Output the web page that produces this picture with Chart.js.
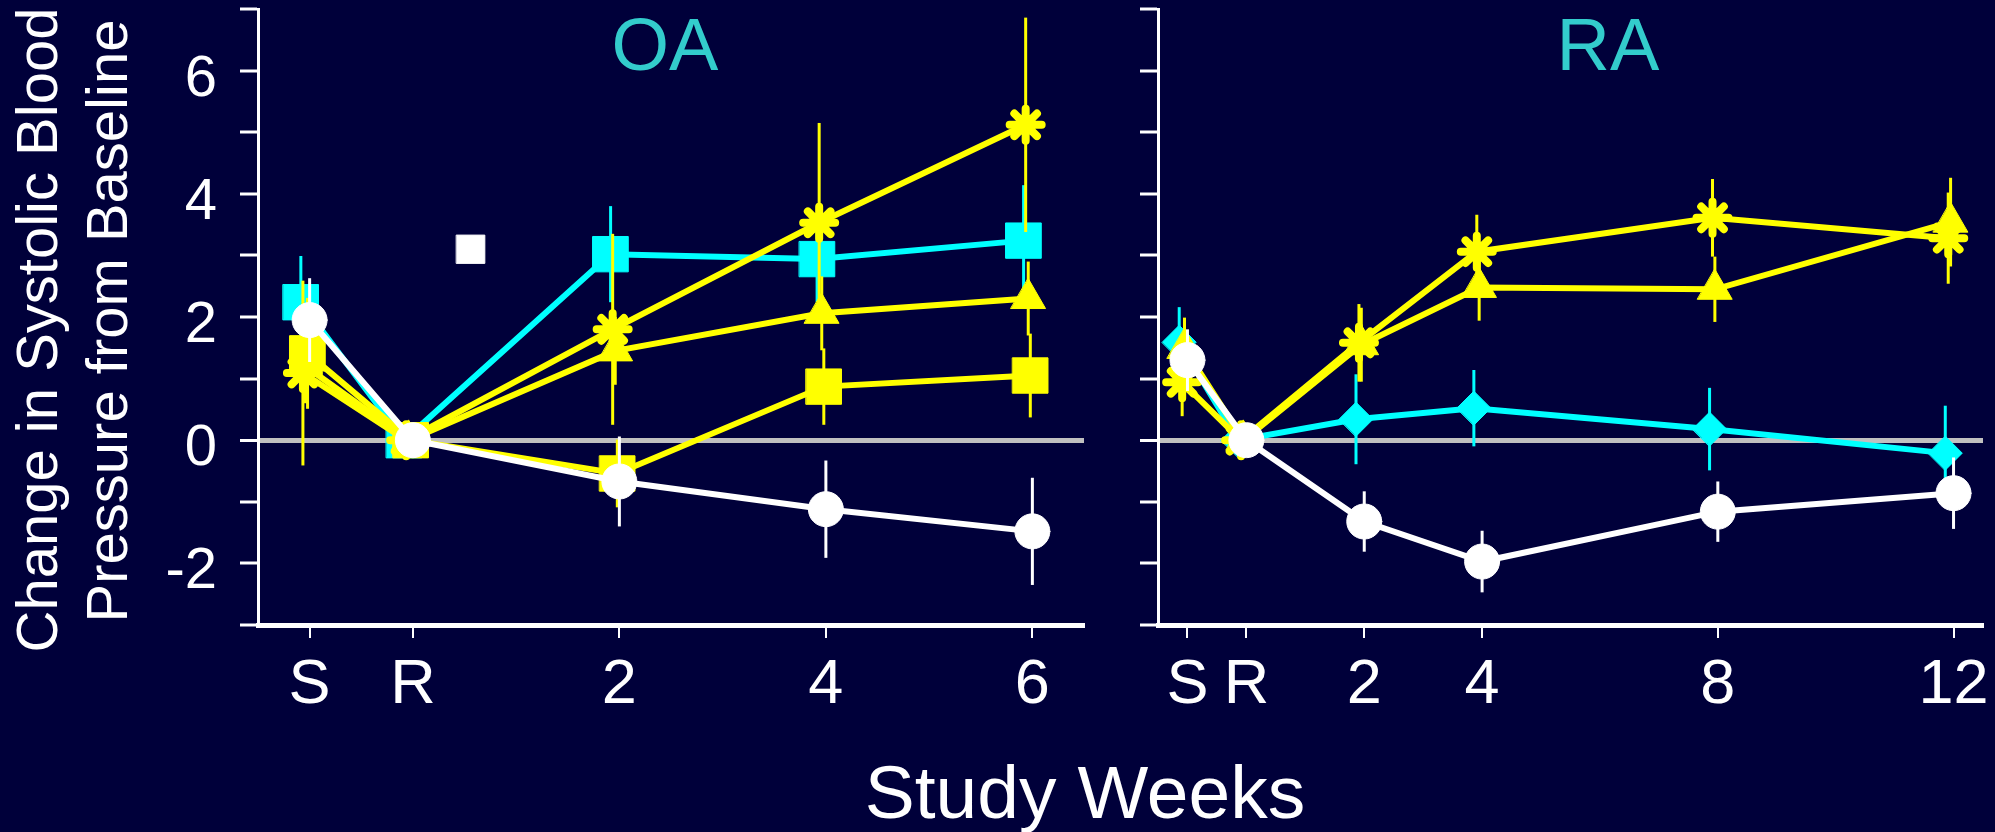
<!DOCTYPE html>
<html><head><meta charset="utf-8">
<script src="https://cdn.jsdelivr.net/npm/chart.js@4.4.0/dist/chart.umd.min.js"></script>
<style>
html,body{margin:0;padding:0;background:#00003A;width:1995px;height:832px;overflow:hidden;}
#cL{position:absolute;left:0;top:0;}
#cR{position:absolute;left:1100px;top:0;}
</style></head><body>
<canvas id="cL" width="1995" height="832"></canvas>
<canvas id="cR" width="895" height="832"></canvas>
<script>
// ---------------- data ----------------
const yTickLabelValues = [-2, 0, 2, 4, 6];
const yTitleLines = ['Change in Systolic Blood', 'Pressure from Baseline'];
const xTitle = 'Study Weeks';
const panelTitles = ['OA', 'RA'];

// OA panel
const OA_weeks = [-1, 0, 2, 4, 6];
const OA_xTickValues = [-1, 0, 2, 4, 6];
const OA_xTickLabels = ['S', 'R', '2', '4', '6'];
const OA_whiteCircle = [1.95, 0, -0.67, -1.12, -1.48];
const OA_whiteCircleErr = [0.68, 0, 0.73, 0.79, 0.87];
const OA_cyanSquare = [2.24, 0, 3.02, 2.94, 3.24];
const OA_cyanSquareErr = [0.75, 0, 0.78, 0.70, 0.90];
const OA_yellowStar = [1.09, 0, 1.80, 3.53, 5.12];
const OA_yellowStarErr = [1.50, 0, 1.55, 1.62, 1.74];
const OA_yellowTriangle = [1.20, 0, 1.45, 2.06, 2.30];
const OA_yellowTriangleErr = [0.60, 0, 0.55, 0.60, 0.60];
const OA_yellowSquare = [1.41, 0, -0.54, 0.87, 1.05];
const OA_yellowSquareErr = [0.90, 0, 0.55, 0.62, 0.68];
const OA_whiteSquareWeek = [0.56];
const OA_whiteSquareValue = [3.10];

// RA panel
const RA_weeks = [-1, 0, 2, 4, 8, 12];
const RA_xTickValues = [-1, 0, 2, 4, 8, 12];
const RA_xTickLabels = ['S', 'R', '2', '4', '8', '12'];
const RA_whiteCircle = [1.30, 0, -1.32, -1.97, -1.16, -0.86];
const RA_whiteCircleErr = [0.50, 0, 0.49, 0.50, 0.49, 0.58];
const RA_cyanDiamond = [1.59, 0, 0.34, 0.52, 0.18, -0.21];
const RA_cyanDiamondErr = [0.57, 0, 0.73, 0.62, 0.67, 0.77];
const RA_yellowStar = [0.94, 0, 1.58, 3.06, 3.61, 3.28];
const RA_yellowStarErr = [0.55, 0, 0.63, 0.60, 0.63, 0.74];
const RA_yellowTriangle = [1.49, 0, 1.55, 2.48, 2.45, 3.54];
const RA_yellowTriangleErr = [0.50, 0, 0.60, 0.54, 0.53, 0.72];

// ---------------- styles ----------------
const FONT = '"Liberation Sans", Arial, sans-serif';
const WHITE = '#FFFFFF', CYAN = '#00FFFF', YELLOW = '#FFFF00', TEAL = '#33CCCC', ZERO = '#C0C0C0';

function marker(color, style, radius, bw) {
  return {
    borderColor: color, backgroundColor: color,
    pointBackgroundColor: color, pointBorderColor: color,
    pointStyle: style, pointRadius: radius, pointBorderWidth: bw,
    borderWidth: 6, tension: 0, fill: false, showLine: true
  };
}
function series(label, weeks, values, errs, shift, style) {
  return Object.assign({
    label,
    data: weeks.map((w, i) => ({ x: w + shift, y: values[i] })),
    errors: errs
  }, style);
}

const errorBarPlugin = {
  id: 'errorBars',
  beforeDatasetDraw(chart) { chart.ctx.lineCap = 'round'; },
  afterDatasetDraw(chart, args) {
    const ctx = chart.ctx;
    ctx.lineCap = 'butt';
    const ds = chart.data.datasets[args.index];
    if (!ds.errors) return;
    const ys = chart.scales.y;
    ctx.save();
    ctx.strokeStyle = ds.borderColor;
    ctx.lineWidth = 3;
    args.meta.data.forEach((pt, i) => {
      const e = ds.errors[i];
      if (!e) return;
      const v = ds.data[i].y;
      ctx.beginPath();
      ctx.moveTo(pt.x, ys.getPixelForValue(v + e));
      ctx.lineTo(pt.x, ys.getPixelForValue(v - e));
      ctx.stroke();
    });
    ctx.restore();
  }
};

function yScale(showLabels, width) {
  return {
    type: 'linear', min: -3, max: 7,
    ticks: {
      stepSize: 1, autoSkip: false, color: WHITE, padding: 23, labelOffset: 9,
      font: { family: FONT, size: 58 },
      callback: v => (showLabels && yTickLabelValues.includes(v)) ? String(v) : ''
    },
    grid: {
      drawOnChartArea: true, drawTicks: true, tickLength: 18, tickColor: WHITE, tickWidth: 3,
      color: c => (c.tick && c.tick.value === 0) ? ZERO : 'rgba(0,0,0,0)',
      lineWidth: c => (c.tick && c.tick.value === 0) ? 5 : 0
    },
    border: { display: true, color: WHITE, width: 3 },
    afterFit: s => { s.width = width; s.paddingTop = 0; s.paddingBottom = 0; }
  };
}
function xScale(min, max, tickVals, tickLabels) {
  return {
    type: 'linear', min, max,
    afterBuildTicks: s => { s.ticks = tickVals.map(v => ({ value: v })); },
    ticks: {
      autoSkip: false, maxRotation: 0, minRotation: 0, color: WHITE, padding: 10,
      font: { family: FONT, size: 63 },
      callback: v => { const k = tickVals.indexOf(v); return k >= 0 ? tickLabels[k] : ''; }
    },
    grid: { drawOnChartArea: false, drawTicks: true, tickLength: 13, tickColor: WHITE, tickWidth: 2, color: WHITE, lineWidth: 2 },
    border: { display: true, color: WHITE, width: 5 },
    afterFit: s => { s.height = 207; s.paddingLeft = 0; s.paddingRight = 0; }
  };
}
function baseOptions(padRight, xs, ys) {
  return {
    responsive: false, animation: false, events: [],
    layout: { autoPadding: false, padding: { left: 0, top: 9, right: padRight, bottom: 0 } },
    plugins: { legend: { display: false }, tooltip: { enabled: false } },
    scales: { x: xs, y: ys }
  };
}

// ---------------- left chart (OA) ----------------
const leftText = {
  id: 'leftText',
  afterDraw(chart) {
    const ctx = chart.ctx;
    ctx.save();
    ctx.fillStyle = WHITE;
    ctx.textAlign = 'center';
    ctx.textBaseline = 'alphabetic';
    ctx.font = '58px ' + FONT;
    [[57, 330], [127, 321]].forEach(([x, y], i) => {
      ctx.save(); ctx.translate(x, y); ctx.rotate(-Math.PI / 2);
      ctx.fillText(yTitleLines[i], 0, 0); ctx.restore();
    });
    ctx.font = '75px ' + FONT;
    ctx.fillText(xTitle, 1085, 818);
    ctx.fillStyle = TEAL;
    ctx.font = '74px ' + FONT;
    ctx.fillText(panelTitles[0], 665, 70);
    ctx.restore();
  }
};

new Chart(document.getElementById('cL'), {
  type: 'line',
  data: {
    datasets: [
      series('OA white circle', OA_weeks, OA_whiteCircle, OA_whiteCircleErr, 0, marker(WHITE, 'circle', 17.5, 1)),
      series('OA yellow asterisk', OA_weeks, OA_yellowStar, OA_yellowStarErr, -0.065, marker(YELLOW, 'star', 16, 8)),
      series('OA yellow triangle', OA_weeks, OA_yellowTriangle, OA_yellowTriangleErr, -0.04, marker(YELLOW, 'triangle', 20, 1)),
      series('OA yellow square', OA_weeks, OA_yellowSquare, OA_yellowSquareErr, -0.02, marker(YELLOW, 'rect', 25, 1)),
      series('OA cyan square', OA_weeks, OA_cyanSquare, OA_cyanSquareErr, -0.085, marker(CYAN, 'rect', 25, 1)),
      Object.assign({ label: 'white square', data: OA_whiteSquareWeek.map((w, i) => ({ x: w, y: OA_whiteSquareValue[i] })) },
        marker(WHITE, 'rect', 20, 1), { showLine: false })
    ]
  },
  options: baseOptions(911, xScale(-1.5, 6.5, OA_xTickValues, OA_xTickLabels), yScale(true, 258)),
  plugins: [errorBarPlugin, leftText]
});

// ---------------- right chart (RA) ----------------
const rightText = {
  id: 'rightText',
  afterDraw(chart) {
    const ctx = chart.ctx;
    ctx.save();
    ctx.fillStyle = TEAL;
    ctx.textAlign = 'center';
    ctx.textBaseline = 'alphabetic';
    ctx.font = '74px ' + FONT;
    ctx.fillText(panelTitles[1], 508, 70);
    ctx.restore();
  }
};

new Chart(document.getElementById('cR'), {
  type: 'line',
  data: {
    datasets: [
      series('RA white circle', RA_weeks, RA_whiteCircle, RA_whiteCircleErr, 0, marker(WHITE, 'circle', 17.5, 1)),
      series('RA yellow asterisk', RA_weeks, RA_yellowStar, RA_yellowStarErr, -0.09, marker(YELLOW, 'star', 16, 8)),
      series('RA yellow triangle', RA_weeks, RA_yellowTriangle, RA_yellowTriangleErr, -0.05, marker(YELLOW, 'triangle', 20, 1)),
      series('RA cyan diamond', RA_weeks, RA_cyanDiamond, RA_cyanDiamondErr, -0.14, marker(CYAN, 'rectRot', 17, 1))
    ]
  },
  options: baseOptions(12, xScale(-1.5, 12.5, RA_xTickValues, RA_xTickLabels), yScale(false, 58)),
  plugins: [errorBarPlugin, rightText]
});
</script>
</body></html>
